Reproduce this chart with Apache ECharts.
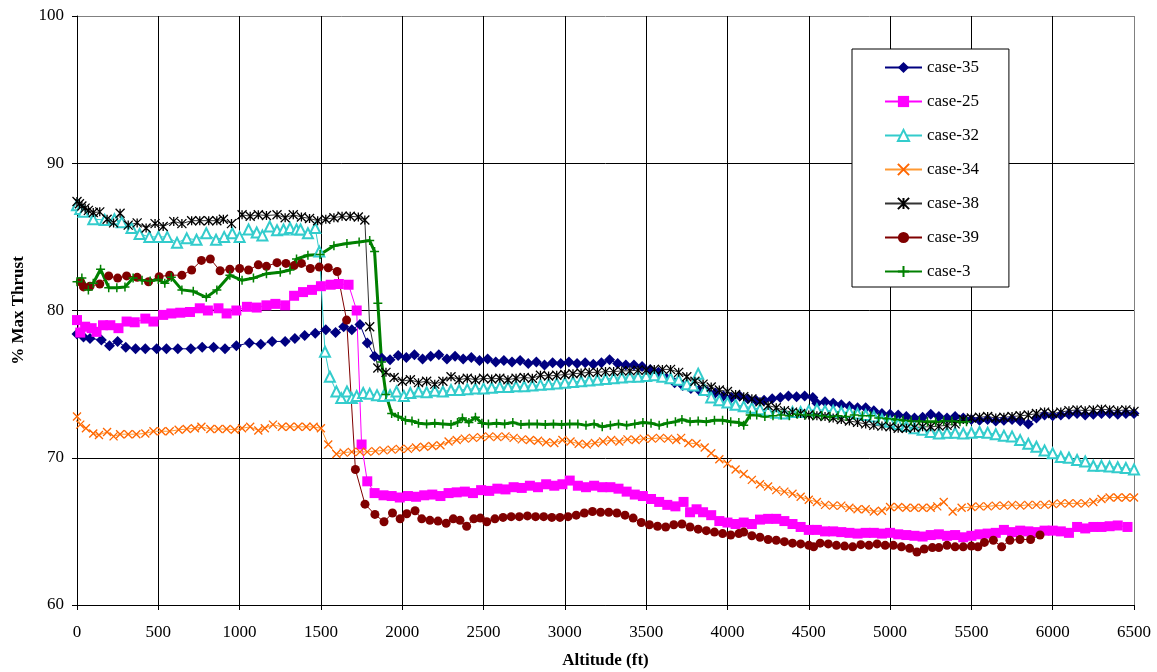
<!DOCTYPE html>
<html>
<head>
<meta charset="utf-8">
<script src="https://cdn.jsdelivr.net/npm/echarts@6/dist/echarts.min.js"></script>
<style>
  html, body { margin: 0; padding: 0; background: #fff; }
  #chart { width: 1157px; height: 672px; }
</style>
</head>
<body>
<div id="chart"></div>
<script>
// Thrust setting (% of max) versus altitude for seven test cases: [altitude ft, % max thrust]
const xTicks = { min: 0, max: 6500, step: 500 };
const yTicks = { min: 60, max: 100, step: 10 };

const case35 = [[0,78.4],[40,78.2],[80,78.1],[150,78.0],[200,77.6],[250,77.9],[300,77.5],[360,77.4],[420,77.4],[490,77.4],[550,77.4],[620,77.4],[700,77.4],[770,77.5],[840,77.5],[910,77.4],[980,77.6],[1060,77.8],[1130,77.7],[1200,77.9],[1280,77.9],[1340,78.1],[1400,78.3],[1465,78.45],[1530,78.7],[1590,78.5],[1640,78.9],[1690,78.7],[1740,79.05],[1785,77.8],[1830,76.9],[1875,76.75],[1925,76.65],[1975,76.95],
  [2025,76.8],[2075,77.0],[2125,76.7],[2175,76.9],[2225,77.0],[2275,76.7],[2325,76.9],[2375,76.7],[2425,76.8],[2475,76.6],[2525,76.7],[2575,76.5],[2625,76.6],[2675,76.5],[2725,76.6],[2775,76.4],[2825,76.5],[2875,76.3],[2925,76.45],[2975,76.4],[3025,76.5],[3075,76.4],[3125,76.45],[3175,76.35],[3225,76.45],[3275,76.65],[3325,76.4],[3375,76.3],[3425,76.3],[3475,76.2],[3525,76.0],[3575,75.8],[3625,75.4],[3675,75.1],[3725,74.9],[3775,74.7],[3825,74.6],[3875,74.5],[3925,74.4],[3975,74.2],[4025,74.1],[4075,74.2],[4125,74.0],[4175,73.9],[4225,73.9],[4275,74.0],[4325,74.1],[4375,74.2],[4425,74.15],[4475,74.2],[4525,74.1],[4550,73.7],[4600,73.8],[4650,73.7],[4700,73.6],[4750,73.5],[4800,73.4],[4850,73.4],[4900,73.2],[4950,73.0],[5000,72.95],[5050,72.9],[5100,72.8],[5150,72.7],[5200,72.75],[5250,72.95],[5300,72.8],[5350,72.7],[5400,72.8],[5450,72.7],[5500,72.6],[5550,72.55],[5600,72.6],[5650,72.5],[5700,72.55],[5750,72.6],[5800,72.5],[5850,72.3],[5900,72.7],[5950,72.9],[6000,72.85],[6050,72.9],[6100,72.95],[6150,73.0],[6200,72.9],[6250,72.95],[6300,73.0],[6350,73.0],[6400,72.95],[6450,73.0],[6500,73.0]];

const case25 = [[0,79.35],[20,78.5],[50,78.9],[90,78.8],[120,78.55],[160,79.0],[205,79.0],[255,78.8],[305,79.25],[355,79.2],[420,79.45],[470,79.25],[530,79.7],[580,79.8],[635,79.85],[695,79.9],[755,80.15],[805,80.0],[870,80.15],[920,79.8],[980,80.0],[1045,80.25],[1105,80.2],[1165,80.35],[1220,80.45],[1280,80.35],[1335,81.0],[1390,81.25],[1445,81.4],[1500,81.65],[1560,81.75],[1610,81.8],[1670,81.75],[1720,80.0],[1750,70.9],[1785,68.4],[1830,67.6],[1885,67.45],[1935,67.4],[1985,67.3],
  [2035,67.4],[2085,67.35],[2135,67.45],[2185,67.5],[2235,67.4],[2285,67.6],[2335,67.65],[2385,67.7],[2435,67.6],[2485,67.8],[2535,67.75],[2585,67.9],[2635,67.85],[2685,68.0],[2735,67.95],[2785,68.1],[2835,68.0],[2885,68.2],[2935,68.1],[2985,68.2],[3030,68.45],[3080,68.1],[3130,68.0],[3180,68.1],[3230,68.0],[3280,68.0],[3330,67.9],[3380,67.7],[3430,67.5],[3480,67.4],[3530,67.2],[3580,67.0],[3630,66.8],[3680,66.7],[3730,67.0],[3770,66.3],[3810,66.5],[3850,66.3],[3900,66.1],[3950,65.7],[4000,65.6],[4050,65.5],[4100,65.6],[4150,65.5],[4200,65.8],[4250,65.85],[4300,65.85],[4350,65.7],[4400,65.5],[4450,65.3],[4500,65.1],[4550,65.1],[4600,65.0],[4650,65.0],[4700,64.95],[4750,64.9],[4800,64.85],[4850,64.9],[4900,64.9],[4950,64.85],[5000,64.9],[5050,64.8],[5100,64.75],[5150,64.7],[5200,64.65],[5250,64.75],[5300,64.8],[5350,64.7],[5400,64.75],[5450,64.6],[5500,64.7],[5550,64.8],[5600,64.85],[5650,64.9],[5700,65.1],[5750,64.95],[5800,65.05],[5850,65.0],[5900,64.95],[5950,65.05],[6000,65.05],[6050,65.0],[6100,64.9],[6150,65.3],[6200,65.2],[6250,65.3],[6300,65.3],[6350,65.35],[6400,65.4],[6460,65.3]];

const case32 = [[0,87.15],[20,86.9],[40,86.7],[100,86.2],[170,86.15],[230,86.2],[275,86.0],[335,85.6],[385,85.2],[445,85.0],[500,85.0],[555,85.0],[615,84.6],[675,84.9],[735,84.8],[795,85.25],[855,84.8],[905,85.0],[955,85.25],[1000,85.0],[1055,85.5],[1105,85.3],[1140,85.1],[1185,85.7],[1230,85.45],[1270,85.5],[1310,85.6],[1350,85.5],[1375,85.5],[1420,85.25],[1465,85.6],[1490,84.0],[1525,77.2],[1555,75.5],[1595,74.5],[1625,74.05],[1660,74.5],[1690,74.05],[1720,74.2],[1760,74.4],[1800,74.35],[1845,74.25],[1885,74.2],[1925,74.25],[1965,74.5],
  [2010,74.2],[2050,74.4],[2100,74.5],[2150,74.45],[2200,74.55],[2250,74.5],[2300,74.6],[2350,74.6],[2400,74.65],[2450,74.7],[2500,74.7],[2550,74.75],[2600,74.8],[2650,74.8],[2700,74.85],[2750,74.85],[2800,74.9],[2850,74.95],[2900,75.0],[2950,75.05],[3000,75.1],[3050,75.15],[3100,75.2],[3150,75.25],[3200,75.3],[3250,75.35],[3300,75.4],[3350,75.45],[3400,75.5],[3450,75.5],[3500,75.55],[3550,75.6],[3600,75.5],[3650,75.4],[3700,75.3],[3750,75.0],[3790,74.9],[3820,75.7],[3860,74.6],[3900,74.1],[3950,73.9],[4000,73.75],[4050,73.6],[4100,73.5],[4150,73.4],[4200,73.3],[4250,73.2],[4300,73.05],[4350,73.0],[4400,73.1],[4450,73.1],[4500,73.2],[4550,73.3],[4600,73.2],[4650,73.2],[4700,73.1],[4750,73.1],[4800,73.0],[4850,72.9],[4900,72.8],[4950,72.6],[5000,72.45],[5050,72.3],[5100,72.15],[5150,72.0],[5200,71.9],[5250,71.75],[5300,71.65],[5350,71.7],[5400,71.7],[5450,71.65],[5500,71.7],[5550,71.75],[5600,71.7],[5650,71.6],[5700,71.5],[5750,71.45],[5800,71.2],[5850,70.95],[5900,70.75],[5950,70.5],[6000,70.3],[6050,70.05],[6100,70.0],[6150,69.85],[6200,69.75],[6250,69.45],[6300,69.45],[6350,69.4],[6400,69.35],[6450,69.3],[6500,69.2]];

const case34 = [[0,72.8],[20,72.25],[55,72.0],[100,71.65],[135,71.55],[185,71.75],[225,71.45],[265,71.6],[315,71.6],[365,71.6],[420,71.65],[470,71.8],[520,71.8],[570,71.8],[625,71.9],[675,71.95],[725,72.0],[765,72.1],[820,71.95],[870,71.95],[920,71.95],[970,71.9],[1015,72.0],[1065,72.1],[1115,71.85],[1155,72.0],[1205,72.25],[1260,72.1],[1310,72.1],[1360,72.1],[1410,72.1],[1455,72.1],[1500,72.0],[1545,70.9],[1595,70.25],[1640,70.35],[1690,70.4],[1740,70.4],[1785,70.4],[1835,70.45],[1885,70.5],[1935,70.55],[1985,70.6],
  [2035,70.6],[2085,70.7],[2135,70.75],[2185,70.8],[2235,70.85],[2285,71.1],[2335,71.2],[2385,71.3],[2435,71.35],[2485,71.4],[2535,71.45],[2585,71.4],[2635,71.45],[2685,71.35],[2735,71.25],[2785,71.2],[2835,71.15],[2885,71.05],[2935,71.0],[2985,71.2],[3035,71.1],[3085,70.95],[3135,70.9],[3185,71.0],[3235,71.1],[3285,71.2],[3335,71.1],[3385,71.25],[3435,71.2],[3485,71.3],[3535,71.3],[3585,71.35],[3635,71.3],[3685,71.2],[3715,71.35],[3760,71.0],[3810,70.95],[3860,70.7],[3900,70.3],[3950,69.9],[4000,69.6],[4050,69.2],[4100,68.9],[4150,68.5],[4200,68.2],[4250,68.05],[4300,67.8],[4350,67.7],[4400,67.55],[4450,67.35],[4500,67.15],[4550,67.0],[4600,66.8],[4650,66.75],[4700,66.75],[4750,66.6],[4800,66.5],[4850,66.5],[4900,66.35],[4950,66.4],[5000,66.65],[5050,66.65],[5100,66.6],[5150,66.6],[5200,66.6],[5250,66.6],[5290,66.7],[5330,67.0],[5385,66.35],[5440,66.6],[5500,66.65],[5550,66.7],[5600,66.7],[5650,66.75],[5700,66.75],[5750,66.8],[5800,66.75],[5850,66.8],[5900,66.8],[5950,66.8],[6000,66.85],[6050,66.9],[6100,66.9],[6150,66.9],[6200,66.9],[6250,67.0],[6300,67.2],[6350,67.3],[6400,67.3],[6450,67.3],[6500,67.3]];

const case38 = [[0,87.4],[15,87.25],[30,87.1],[50,86.95],[70,86.8],[100,86.65],[140,86.7],[185,86.2],[225,85.95],[265,86.6],[315,85.8],[370,85.95],[425,85.6],[480,85.9],[530,85.7],[595,86.05],[645,85.9],[705,86.1],[755,86.1],[810,86.1],[860,86.1],[900,86.2],[950,85.9],[1015,86.5],[1065,86.4],[1115,86.5],[1165,86.45],[1230,86.5],[1280,86.3],[1330,86.5],[1380,86.35],[1430,86.25],[1480,86.1],[1530,86.2],[1580,86.3],[1630,86.4],[1680,86.4],[1730,86.35],[1770,86.15],[1800,78.9],[1850,76.1],[1900,75.8],[1950,75.45],
  [2000,75.2],[2050,75.3],[2100,75.1],[2150,75.2],[2200,75.0],[2250,75.2],[2300,75.5],[2350,75.3],[2400,75.4],[2450,75.3],[2500,75.4],[2550,75.35],[2600,75.4],[2650,75.3],[2700,75.4],[2750,75.45],[2800,75.4],[2850,75.6],[2900,75.55],[2950,75.6],[3000,75.65],[3050,75.7],[3100,75.75],[3150,75.8],[3200,75.8],[3250,75.85],[3300,75.85],[3350,75.9],[3400,75.9],[3450,75.95],[3500,75.95],[3550,76.0],[3600,76.0],[3650,76.0],[3700,75.8],[3750,75.5],[3800,75.2],[3850,75.0],[3900,74.8],[3950,74.6],[4000,74.5],[4050,74.3],[4100,74.15],[4150,74.0],[4200,73.8],[4250,73.55],[4300,73.4],[4350,73.2],[4400,73.1],[4450,73.0],[4500,72.9],[4550,72.85],[4600,72.8],[4650,72.7],[4700,72.6],[4750,72.5],[4800,72.4],[4850,72.3],[4900,72.2],[4950,72.15],[5000,72.1],[5050,72.0],[5100,72.0],[5150,72.05],[5200,72.1],[5250,72.1],[5300,72.15],[5350,72.2],[5400,72.3],[5450,72.6],[5500,72.7],[5550,72.75],[5600,72.8],[5650,72.7],[5700,72.75],[5750,72.8],[5800,72.85],[5850,72.9],[5900,73.0],[5950,73.1],[6000,73.0],[6050,73.1],[6100,73.2],[6150,73.25],[6200,73.2],[6250,73.25],[6300,73.3],[6350,73.25],[6400,73.2],[6450,73.25],[6500,73.15]];

const case39 = [[20,81.95],[40,81.6],[80,81.65],[140,81.8],[195,82.35],[250,82.2],[305,82.35],[370,82.25],[440,81.95],[505,82.3],[570,82.4],[645,82.4],[705,82.75],[765,83.4],[820,83.5],[880,82.7],[940,82.8],[1000,82.85],[1055,82.75],[1115,83.1],[1165,83.0],[1230,83.25],[1285,83.2],[1335,83.05],[1380,83.2],[1435,82.85],[1490,82.95],[1545,82.9],[1600,82.65],[1658,79.35],[1712,69.2],[1771,66.85],[1832,66.15],[1888,65.65],[1940,66.25],[1987,65.85],
  [2028,66.2],[2079,66.4],[2120,65.85],[2170,65.75],[2220,65.7],[2270,65.55],[2314,65.85],[2355,65.75],[2396,65.35],[2440,65.85],[2480,65.9],[2520,65.65],[2570,65.85],[2620,65.95],[2670,66.0],[2720,66.0],[2770,66.05],[2820,66.0],[2870,66.0],[2920,65.95],[2970,65.95],[3020,66.0],[3070,66.1],[3120,66.25],[3170,66.35],[3220,66.3],[3270,66.3],[3320,66.25],[3370,66.1],[3420,65.9],[3470,65.6],[3520,65.45],[3570,65.35],[3620,65.3],[3670,65.45],[3720,65.5],[3770,65.3],[3820,65.15],[3870,65.05],[3920,64.95],[3970,64.85],[4020,64.75],[4070,64.85],[4100,64.95],[4150,64.7],[4200,64.6],[4250,64.45],[4300,64.4],[4350,64.3],[4400,64.2],[4450,64.15],[4500,64.05],[4530,63.95],[4570,64.2],[4620,64.15],[4670,64.05],[4720,64.0],[4770,63.95],[4820,64.1],[4870,64.05],[4920,64.15],[4970,64.05],[5020,64.05],[5070,63.95],[5120,63.85],[5165,63.6],[5210,63.8],[5260,63.9],[5300,63.9],[5350,64.05],[5400,63.95],[5450,63.95],[5500,64.0],[5540,63.95],[5580,64.25],[5635,64.4],[5686,63.95],[5737,64.4],[5799,64.45],[5864,64.45],[5922,64.75]];

const case3 = [[0,81.95],[30,82.2],[70,81.4],[100,81.85],[145,82.8],[195,81.55],[245,81.55],[295,81.6],[345,82.2],[400,82.05],[450,82.0],[500,82.1],[540,81.85],[580,82.25],[645,81.4],[715,81.3],[795,80.9],[860,81.4],[940,82.4],[1015,82.05],[1085,82.2],[1165,82.5],[1250,82.6],[1310,82.75],[1350,83.5],[1420,83.75],[1495,83.8],[1580,84.4],[1660,84.55],[1735,84.65],[1800,84.75],[1830,84.0],[1850,80.5],[1873,76.5],[1900,74.3],[1935,73.0],[1975,72.8],
  [2020,72.55],[2060,72.5],[2100,72.35],[2150,72.3],[2200,72.35],[2250,72.3],[2300,72.25],[2340,72.4],[2370,72.7],[2410,72.4],[2450,72.75],[2490,72.35],[2530,72.3],[2580,72.35],[2630,72.3],[2680,72.4],[2730,72.25],[2780,72.3],[2830,72.3],[2880,72.25],[2930,72.3],[2980,72.25],[3030,72.3],[3080,72.3],[3130,72.2],[3180,72.3],[3230,72.1],[3280,72.2],[3330,72.3],[3380,72.2],[3430,72.3],[3480,72.4],[3530,72.35],[3580,72.2],[3630,72.35],[3680,72.45],[3720,72.6],[3770,72.45],[3820,72.5],[3870,72.45],[3920,72.55],[3970,72.55],[4020,72.45],[4070,72.4],[4100,72.2],[4140,72.9],[4180,72.9],[4230,72.8],[4280,72.85],[4330,72.9],[4380,72.85],[4430,72.95],[4480,72.9],[4530,72.9],[4580,72.85],[4630,72.8],[4680,72.85],[4730,72.8],[4780,72.9],[4830,72.85],[4880,72.85],[4930,72.7],[4980,72.65],[5030,72.6],[5080,72.55],[5130,72.5],[5180,72.5],[5230,72.45],[5280,72.45],[5330,72.5],[5380,72.5],[5430,72.45],[5470,72.45]];

const FONT = '"Liberation Serif", "Times New Roman", serif';

// stroked marker outlines
const MARK_X = 'path://M0 0 L10 10 M10 0 L0 10';
const MARK_STAR = 'path://M0 0 L10 10 M10 0 L0 10 M5 0 L5 10';
const MARK_PLUS = 'path://M5 0 L5 10 M0 5 L10 5';

function filled(name, data, color, symbol, size) {
  return {
    name, type: 'line', data, symbol, symbolSize: size, showAllSymbol: true,
    lineStyle: { color, width: 1 }, itemStyle: { color }, emphasis: { disabled: true }
  };
}
function stroked(name, data, lineColor, markColor, symbol, size, lineWidth, markWidth) {
  return {
    name, type: 'line', data, symbol, symbolSize: size, showAllSymbol: true,
    lineStyle: { color: lineColor, width: lineWidth },
    itemStyle: { color: 'none', borderColor: markColor, borderWidth: markWidth },
    emphasis: { disabled: true }
  };
}

const xGrid = [];
for (let v = xTicks.min; v <= xTicks.max; v += xTicks.step) xGrid.push(v === xTicks.max ? '#808080' : '#000');
const yGrid = [];
for (let v = yTicks.min; v <= yTicks.max; v += yTicks.step) yGrid.push(v === yTicks.max ? '#808080' : '#000');

const chart = echarts.init(document.getElementById('chart'), null, { renderer: 'canvas' });
chart.setOption({
  animation: false,
  backgroundColor: '#fff',
  textStyle: { fontFamily: FONT, color: '#000' },
  grid: { left: 77, right: 23, top: 16, bottom: 67, containLabel: false, outerBoundsMode: 'none' },
  xAxis: {
    type: 'value', min: xTicks.min, max: xTicks.max, interval: xTicks.step,
    name: 'Altitude (ft)', nameLocation: 'middle', nameGap: 47,
    nameTextStyle: { fontFamily: FONT, fontSize: 17, fontWeight: 'bold', color: '#000' },
    axisLine: { lineStyle: { color: '#000', width: 1 } },
    axisTick: { length: 5, lineStyle: { color: '#000' } },
    axisLabel: { fontFamily: FONT, fontSize: 17, color: '#000', margin: 19, formatter: v => String(v) },
    splitLine: { show: true, lineStyle: { color: xGrid, width: 1 } }
  },
  yAxis: {
    type: 'value', min: yTicks.min, max: yTicks.max, interval: yTicks.step,
    name: '% Max Thrust', nameLocation: 'middle', nameGap: 50,
    nameTextStyle: { fontFamily: FONT, fontSize: 17, fontWeight: 'bold', color: '#000' },
    axisLine: { show: true, lineStyle: { color: '#000', width: 1 } },
    axisTick: { show: true, length: 5, lineStyle: { color: '#000' } },
    axisLabel: { fontFamily: FONT, fontSize: 17, color: '#000', margin: 13, formatter: v => String(v) },
    splitLine: { show: true, lineStyle: { color: yGrid, width: 1 } }
  },
  legend: {
    orient: 'vertical', left: 852, top: 49,
    padding: [10, 30, 7, 32],
    itemWidth: 37, itemHeight: 14, itemGap: 17,
    backgroundColor: '#fff', borderColor: '#000', borderWidth: 1, borderRadius: 0,
    textStyle: { fontFamily: FONT, fontSize: 17, color: '#000' },
    selectedMode: false
  },
  series: [
    filled('case-35', case35, '#000080', 'diamond', 11),
    filled('case-25', case25, '#FF00FF', 'rect', 10),
    {
      name: 'case-32', type: 'line', data: case32, symbol: 'emptyTriangle', symbolSize: 10, showAllSymbol: true,
      lineStyle: { color: '#33CCCC', width: 1 }, itemStyle: { color: '#33CCCC', borderWidth: 1.2 },
      emphasis: { disabled: true }
    },
    stroked('case-34', case34, '#FF9933', '#FF6600', MARK_X, 8, 1, 1.3),
    stroked('case-38', case38, '#333333', '#000000', MARK_STAR, 9, 1, 1.3),
    filled('case-39', case39, '#800000', 'circle', 9),
    stroked('case-3', case3, '#008000', '#008000', MARK_PLUS, 9, 3, 1.5)
  ]
});
</script>
</body>
</html>
